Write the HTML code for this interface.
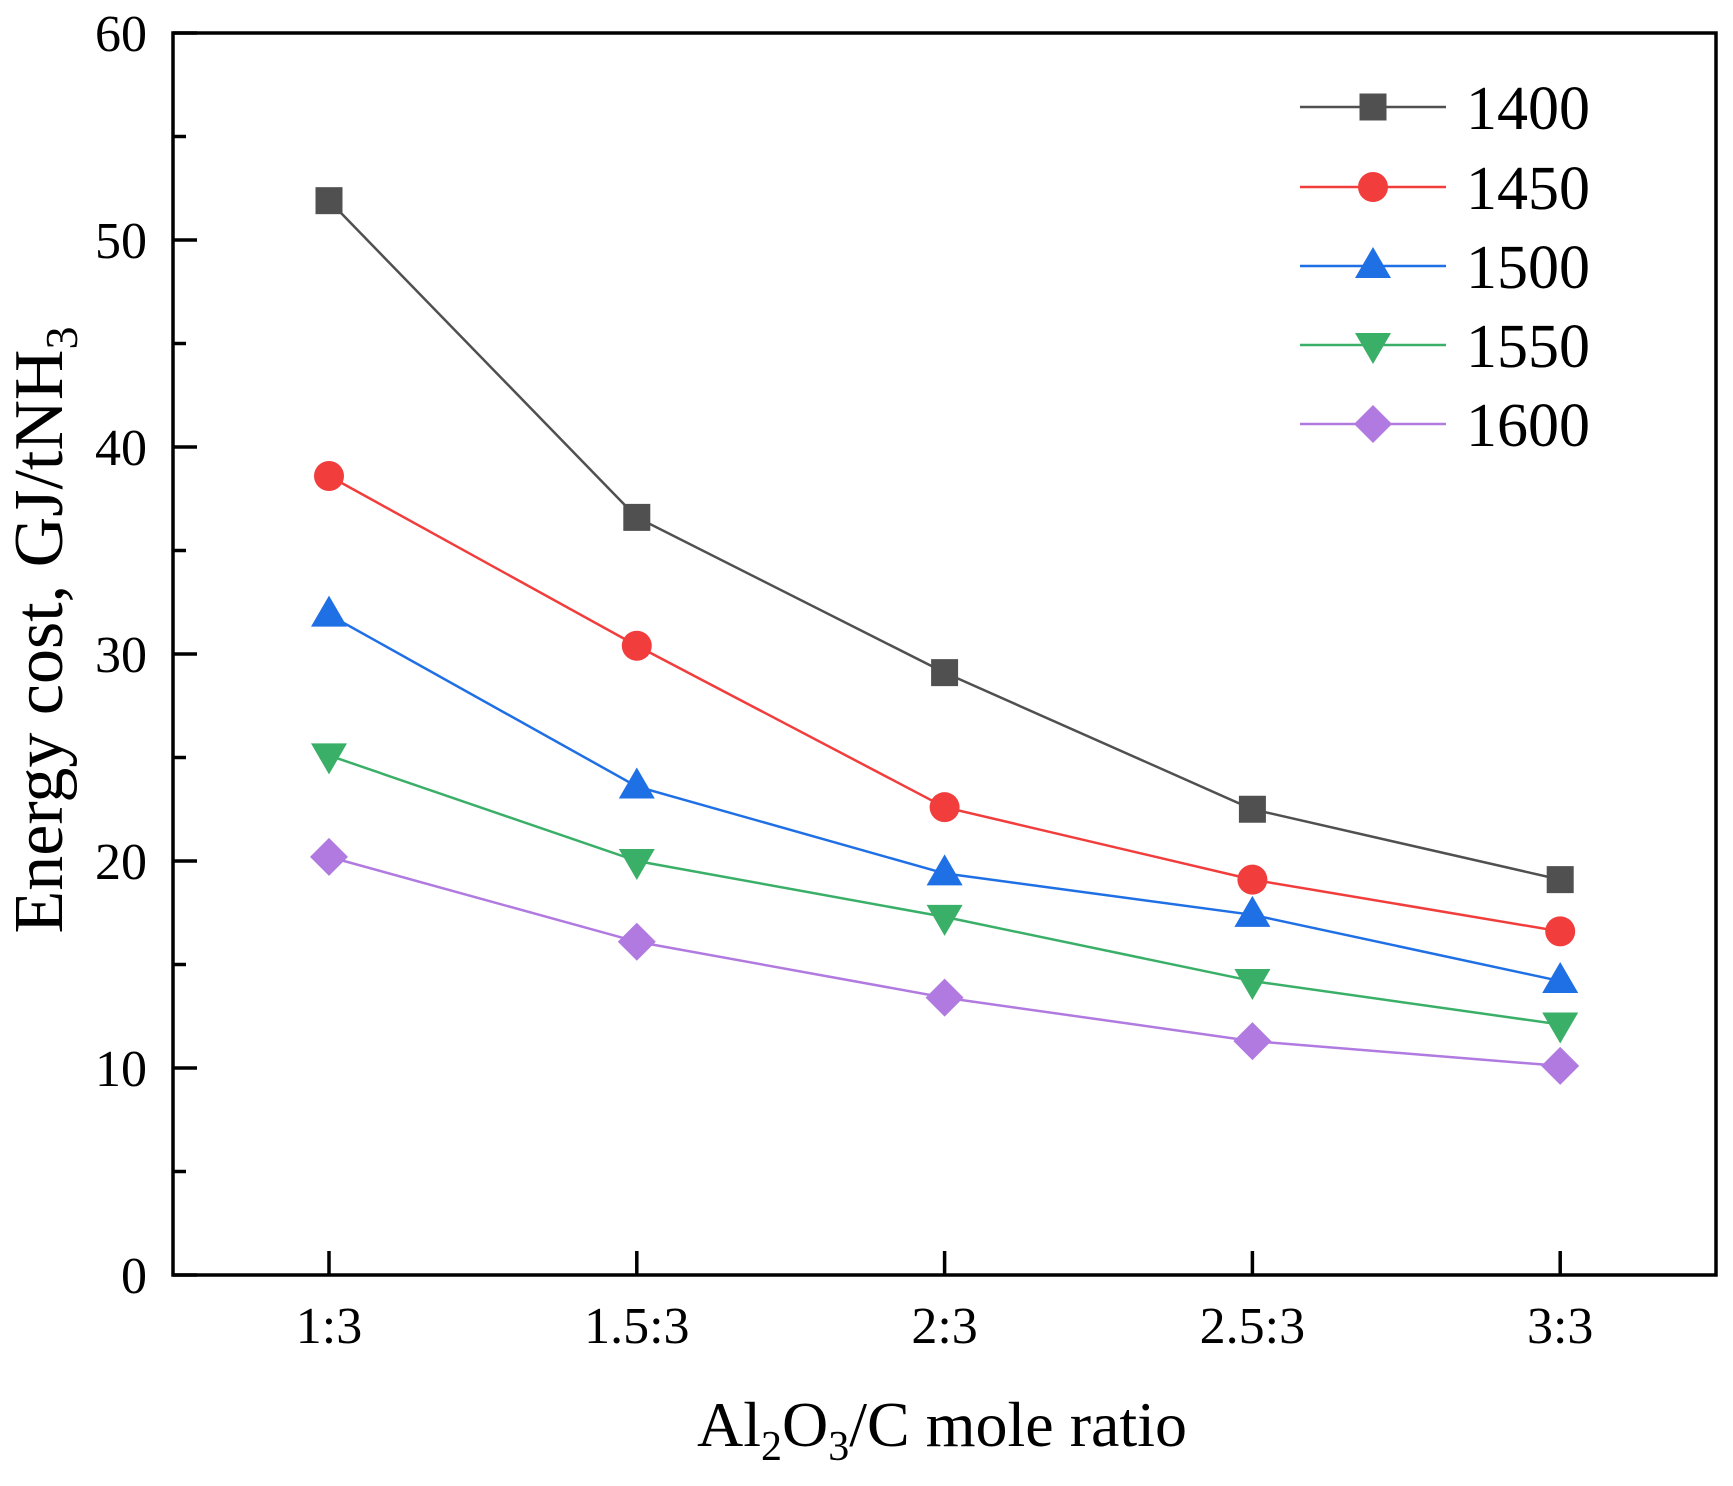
<!DOCTYPE html>
<html><head><meta charset="utf-8"><style>
html,body{margin:0;padding:0;background:#fff;}
svg text{font-family:"Liberation Serif",serif;fill:#000;}
</style></head><body>
<svg id="chart" width="1733" height="1481" viewBox="0 0 1733 1481" xmlns="http://www.w3.org/2000/svg">
<g id="plot"></g>
</svg>
<script>
const categories = ["1:3","1.5:3","2:3","2.5:3","3:3"];
const yTicks = [0,10,20,30,40,50,60];
const seriesNames = ["1400","1450","1500","1550","1600"];
const s1400 = [51.9,36.6,29.1,22.5,19.1];
const s1450 = [38.6,30.4,22.6,19.1,16.6];
const s1500 = [31.9,23.6,19.4,17.4,14.2];
const s1550 = [25.1,20.0,17.3,14.2,12.1];
const s1600 = [20.2,16.1,13.4,11.3,10.1];
const seriesValues = [s1400,s1450,s1500,s1550,s1600];

const colors = ["#505050","#f23d3d","#1f6fe5","#3aaf68","#b07ae0"];
const shapes = ["square","circle","up","down","diamond"];
const L=173,R=1716,T=33,B=1275;
const x0=329, dx=307.8;
function xs(i){return x0+i*dx;}
function ys(v){return B-(v/60)*(B-T);}
const NS="http://www.w3.org/2000/svg";
const g=document.getElementById('plot');
function mk(tag,attrs,parent){const e=document.createElementNS(NS,tag);for(const k in attrs)e.setAttribute(k,attrs[k]);(parent||g).appendChild(e);return e;}
function marker(shape,cx,cy,color,parent){
  let e;
  if(shape==="square") e=mk('rect',{x:cx-13.5,y:cy-13.5,width:27,height:27,fill:color},parent);
  else if(shape==="circle") e=mk('circle',{cx:cx,cy:cy,r:15,fill:color},parent);
  else if(shape==="up") e=mk('polygon',{points:`${cx},${cy-19} ${cx+18},${cy+12} ${cx-18},${cy+12}`,fill:color},parent);
  else if(shape==="down") e=mk('polygon',{points:`${cx},${cy+19} ${cx+18},${cy-12} ${cx-18},${cy-12}`,fill:color},parent);
  else e=mk('polygon',{points:`${cx},${cy-19} ${cx+19},${cy} ${cx},${cy+19} ${cx-19},${cy}`,fill:color},parent);
  return e;
}
const frame=mk('rect',{x:L,y:T,width:R-L,height:B-T,fill:'none',stroke:'#000','stroke-width':3.5});


yTicks.forEach(v=>{
  const y=ys(v);
  const t=mk('line',{x1:L,x2:L+24,y1:y,y2:y,stroke:'#000','stroke-width':3.5});
  
  
  const lb=mk('text',{x:L-26,y:y+18,'font-size':52,'text-anchor':'end'});
  lb.textContent=v;
  
  
});
for(let i=0;i<yTicks.length-1;i++){
  const y=ys((yTicks[i]+yTicks[i+1])/2);
  const m=mk('line',{x1:L,x2:L+13,y1:y,y2:y,stroke:'#000','stroke-width':3.5});
  
  
}
categories.forEach((c,i)=>{
  const x=xs(i);
  const t=mk('line',{x1:x,x2:x,y1:B,y2:B-24,stroke:'#000','stroke-width':3.5});
  
  
  const lb=mk('text',{x:x,y:B+68,'font-size':52,'text-anchor':'middle'});
  lb.textContent=c;
  
  
});
seriesValues.forEach((vals,si)=>{
  const sg=mk('g',{});
  
  
  const pts=vals.map((v,i)=>xs(i)+','+ys(v)).join(' ');
  const pl=mk('polyline',{points:pts,fill:'none',stroke:colors[si],'stroke-width':2.5},sg);
  
  
  vals.forEach((v,i)=>{
    const mm=marker(shapes[si],xs(i),ys(v),colors[si],sg);
    
    
  });
});
const lg=mk('g',{});


const legY=[107,187,266,345,424];
seriesNames.forEach((n,si)=>{
  const eg=mk('g',{},lg);
  
  
  const y=legY[si];
  mk('line',{x1:1300,x2:1446,y1:y,y2:y,stroke:colors[si],'stroke-width':2.5},eg);
  marker(shapes[si],1373,y,colors[si],eg);
  const tx=mk('text',{x:1466,y:y+22,'font-size':62},eg);
  tx.textContent=n;
});
const xt=mk('text',{x:942,y:1446,'font-size':64,'text-anchor':'middle'});


xt.innerHTML='Al<tspan font-size="42" dy="14">2</tspan><tspan dy="-14">O</tspan><tspan font-size="42" dy="14">3</tspan><tspan dy="-14">/C mole ratio</tspan>';
const yt=mk('text',{x:0,y:0,'font-size':70,'text-anchor':'middle',transform:'translate(62,630) rotate(-90)'});


yt.innerHTML='Energy cost, GJ/tNH<tspan font-size="46" dy="15">3</tspan>';
</script>
</body></html>
